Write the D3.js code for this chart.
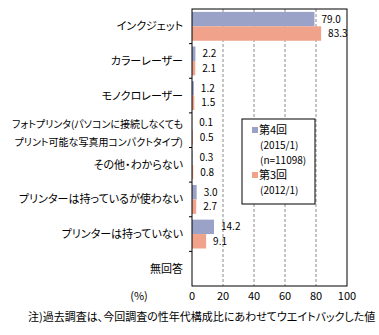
<!DOCTYPE html>
<html>
<head>
<meta charset="utf-8">
<script src="https://cdn.jsdelivr.net/npm/d3@7"></script>
<style>
  body { margin: 0; background: #fff; }
  svg text { font-family: "Noto Sans CJK JP", sans-serif; font-feature-settings: "palt"; fill: #000; }
</style>
</head>
<body>
<div id="chart"></div>
<script>
// categories (two-line label split by \n)
const categories = [
  'インクジェット',
  'カラーレーザー',
  'モノクロレーザー',
  'フォトプリンタ(パソコンに接続しなくても\nプリント可能な写真用コンパクトタイプ)',
  'その他・わからない',
  'プリンターは持っているが使わない',
  'プリンターは持っていない',
  '無回答'
];
const seriesNames = ['第4回', '第3回'];
const seriesSub = [['(2015/1)', '(n=11098)'], ['(2012/1)']];
const values4 = [79.0, 2.2, 1.2, 0.1, 0.3, 3.0, 14.2, null];
const values3 = [83.3, 2.1, 1.5, 0.5, 0.8, 2.7, 9.1, null];
const xTicks = [0, 20, 40, 60, 80, 100];
const colors = ['#9aa2c8', '#f0a28a'];

const W = 379, H = 335;
const svg = d3.select('#chart').append('svg').attr('width', W).attr('height', H);

const x = d3.scaleLinear().domain([0, 100]).range([192, 347]);
const y0 = d3.scaleBand().domain(categories).range([9, 286]);
const y1 = d3.scaleBand().domain(seriesNames).range([0, y0.bandwidth()]).paddingOuter(0.2);

// gridlines
svg.selectAll('.grid').data(xTicks.slice(1, -1)).enter().append('line')
  .attr('x1', d => x(d)).attr('x2', d => x(d))
  .attr('y1', 9).attr('y2', 286)
  .attr('stroke', '#8a8a8a').attr('stroke-dasharray', '3,2');

// bars
const rows = categories.map((c, i) => ({ c, vals: [values4[i], values3[i]] }));
const g = svg.selectAll('.row').data(rows).enter().append('g')
  .attr('transform', d => `translate(0,${y0(d.c)})`);

g.selectAll('rect').data(d => d.vals.map((v, k) => ({ v, k })).filter(e => e.v != null))
  .enter().append('rect')
  .attr('x', x(0))
  .attr('y', e => y1(seriesNames[e.k]))
  .attr('width', e => x(e.v) - x(0))
  .attr('height', y1.bandwidth())
  .attr('fill', e => colors[e.k]);

g.selectAll('.val').data(d => d.vals.map((v, k) => ({ v, k })).filter(e => e.v != null))
  .enter().append('text')
  .attr('x', e => x(e.v) + 7)
  .attr('y', e => y1(seriesNames[e.k]) + y1.bandwidth() / 2)
  .attr('dy', '0.35em')
  .attr('font-size', 10)
  .text(e => e.v.toFixed(1));

// frame
svg.append('rect').attr('x', 192).attr('y', 9).attr('width', 155).attr('height', 277)
  .attr('fill', 'none').attr('stroke', '#000');

// category ticks
svg.selectAll('.ctick').data(categories.slice(1)).enter().append('line')
  .attr('x1', 189).attr('x2', 192)
  .attr('y1', d => y0(d)).attr('y2', d => y0(d))
  .attr('stroke', '#000');

// category labels
svg.selectAll('.clab').data(categories).enter().append('text')
  .attr('x', 183)
  .attr('text-anchor', 'end')
  .attr('font-size', 11)
  .each(function (d) {
    const lines = d.split('\n');
    const cy = y0(d) + y0.bandwidth() / 2;
    const t = d3.select(this);
    if (lines.length === 1) {
      t.attr('y', cy + 4).text(d);
    } else {
      t.attr('y', cy - 2).attr('font-size', 10);
      lines.forEach((l, i) => t.append('tspan').attr('x', 183).attr('dy', i ? 18 : 0).text(l));
    }
  });

// x axis labels
svg.selectAll('.xlab').data(xTicks).enter().append('text')
  .attr('x', d => x(d)).attr('y', 300)
  .attr('text-anchor', 'middle').attr('font-size', 11)
  .text(d => d);
svg.append('text').attr('x', 139).attr('y', 300).attr('text-anchor', 'middle')
  .attr('font-size', 11).text('(%)');

// legend
const lg = svg.append('g');
lg.append('rect').attr('x', 242).attr('y', 119).attr('width', 73).attr('height', 85)
  .attr('fill', '#fff').attr('stroke', '#000');
let ly = 130;
seriesNames.forEach((s, k) => {
  lg.append('rect').attr('x', 252).attr('y', ly - 3).attr('width', 6).attr('height', 6).attr('fill', colors[k]);
  lg.append('text').attr('x', 259).attr('y', ly).attr('dy', '0.35em').attr('font-size', 11).text(s);
  ly += 15;
  seriesSub[k].forEach(t => {
    lg.append('text').attr('x', 260).attr('y', ly).attr('dy', '0.35em').attr('font-size', 10).text(t);
    ly += 15;
  });
});

// note
svg.append('text').attr('x', 28).attr('y', 321).attr('font-size', 11)
  .text('注)過去調査は、今回調査の性年代構成比にあわせてウエイトバックした値');
</script>
</body>
</html>
